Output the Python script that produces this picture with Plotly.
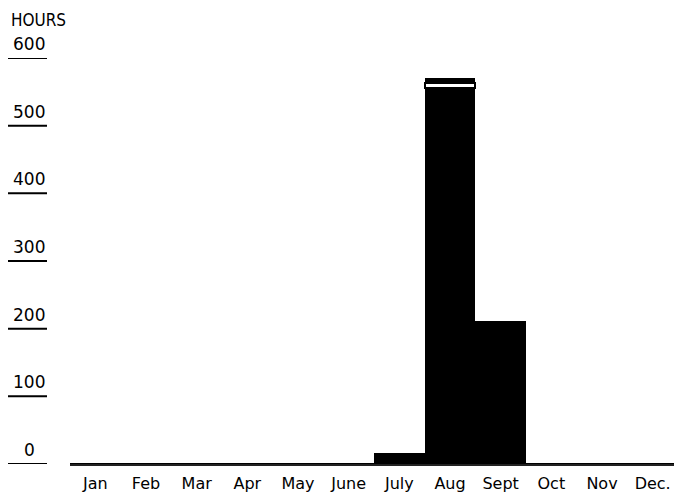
import plotly.graph_objects as go

months = ["Jan", "Feb", "Mar", "Apr", "May", "June", "July", "Aug", "Sept", "Oct", "Nov", "Dec."]
hours_base = [0, 0, 0, 0, 0, 0, 15, 555, 210, 0, 0, 0]
hours_band = [0, 0, 0, 0, 0, 0, 0, 8, 0, 0, 0, 0]
hours_cap = [0, 0, 0, 0, 0, 0, 0, 7, 0, 0, 0, 0]
y_ticks = [0, 100, 200, 300, 400, 500, 600]
y_title = "HOURS"

FONT = "DejaVu Sans"
# page body has an 8px margin; size figure so it fills the 682x497 window
OFF = 8
W, H = 682 - OFF, 497 - OFF
ML, MR, MT, MB = 70 - OFF, 4, 58 - OFF, 33
PW = W - ML - MR

def px_to_paper(screen_px):
    return (screen_px - OFF - ML) / PW

fig = go.Figure()
fig.add_trace(go.Bar(x=months, y=hours_base, marker=dict(color="black", line=dict(width=0)), showlegend=False))
fig.add_trace(go.Bar(x=months, y=hours_band, marker=dict(color="white", line=dict(color="black", width=2)), showlegend=False))
fig.add_trace(go.Bar(x=months, y=hours_cap, marker=dict(color="black", line=dict(width=0)), showlegend=False))

shapes = []
annotations = []
for t in y_ticks:
    shapes.append(dict(type="line", xref="paper", yref="y",
                       x0=px_to_paper(8), x1=px_to_paper(47), y0=t, y1=t,
                       line=dict(color="black", width=2)))
    annotations.append(dict(xref="paper", yref="y", x=px_to_paper(29), y=t,
                            text=str(t), showarrow=False, xanchor="center", yanchor="bottom",
                            yshift=2, font=dict(family=FONT, size=17, color="black")))
annotations.append(dict(xref="paper", yref="paper", x=px_to_paper(38), y=1,
                        text=y_title, showarrow=False, xanchor="center", yanchor="middle",
                        yshift=38, font=dict(family="DejaVu Sans Condensed", size=17, color="black")))

fig.update_layout(
    width=W, height=H,
    margin=dict(l=ML, r=MR, t=MT, b=MB, pad=0),
    paper_bgcolor="white", plot_bgcolor="white",
    barmode="stack", bargap=0,
    shapes=shapes, annotations=annotations,
    font=dict(family=FONT, size=16, color="black"),
)
fig.update_xaxes(type="category", showgrid=False, zeroline=False, showline=True,
                 linecolor="#222", linewidth=2, ticks="", ticklabelstandoff=4,
                 tickfont=dict(family=FONT, size=16, color="black"))
fig.update_yaxes(range=[0, 600], showgrid=False, zeroline=False, showline=False,
                 showticklabels=False, ticks="")

fig.write_html("out.html")
